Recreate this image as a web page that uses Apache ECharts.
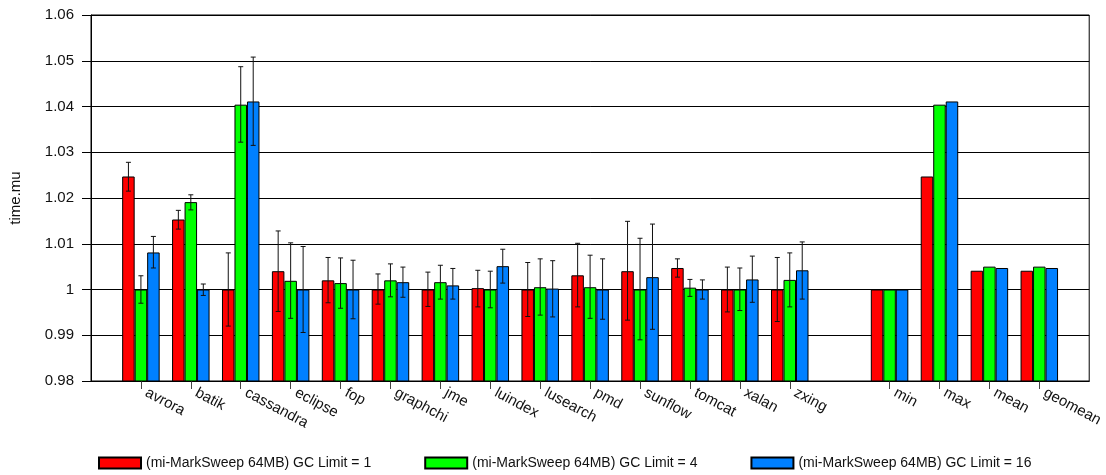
<!DOCTYPE html>
<html>
<head>
<meta charset="utf-8">
<script src="https://cdn.jsdelivr.net/npm/echarts@6/dist/echarts.min.js"></script>
<style>
html,body{margin:0;padding:0;background:#fff;}
#chart{width:1106px;height:475px;}
</style>
</head>
<body>
<div id="chart"></div>
<script>
const categories = ['', 'avrora', 'batik', 'cassandra', 'eclipse', 'fop', 'graphchi', 'jme', 'luindex', 'lusearch', 'pmd', 'sunflow', 'tomcat', 'xalan', 'zxing', '', 'min', 'max', 'mean', 'geomean', ''];
const seriesNames = ['(mi-MarkSweep 64MB) GC Limit = 1', '(mi-MarkSweep 64MB) GC Limit = 4', '(mi-MarkSweep 64MB) GC Limit = 16'];
const yTicks = [0.98, 0.99, 1.00, 1.01, 1.02, 1.03, 1.04, 1.05, 1.06];

const gc1 = [null, 1.0247, 1.0153, 1.0000, 1.0040, 1.0020, 1.0000, 1.0000, 1.0003, 1.0000, 1.0031, 1.0040, 1.0047, 1.0000, 1.0000, null, 1.0000, 1.0247, 1.0041, 1.0041, null];
const gc4 = [null, 1.0000, 1.0191, 1.0404, 1.0019, 1.0014, 1.0020, 1.0016, 1.0000, 1.0005, 1.0005, 1.0000, 1.0004, 1.0000, 1.0021, null, 1.0000, 1.0404, 1.0050, 1.0050, null];
const gc16 = [null, 1.0081, 1.0000, 1.0411, 1.0000, 1.0000, 1.0016, 1.0009, 1.0051, 1.0002, 1.0000, 1.0027, 1.0000, 1.0022, 1.0042, null, 1.0000, 1.0411, 1.0047, 1.0047, null];

const gc1Low  = [null, 1.0215, 1.0132, 0.9920, 0.9952, 0.9971, 0.9968, 0.9963, 0.9962, 0.9941, 0.9962, 0.9933, 1.0027, 0.9951, 0.9930, null, null, null, null, null, null];
const gc1High = [null, 1.0278, 1.0173, 1.0080, 1.0128, 1.0070, 1.0034, 1.0038, 1.0042, 1.0059, 1.0101, 1.0149, 1.0067, 1.0049, 1.0070, null, null, null, null, null, null];
const gc4Low  = [null, 0.9970, 1.0174, 1.0322, 0.9937, 0.9959, 0.9984, 0.9979, 0.9960, 0.9944, 0.9937, 0.9890, 0.9985, 0.9954, 0.9962, null, null, null, null, null, null];
const gc4High = [null, 1.0030, 1.0207, 1.0487, 1.0102, 1.0069, 1.0056, 1.0053, 1.0040, 1.0067, 1.0075, 1.0112, 1.0022, 1.0047, 1.0080, null, null, null, null, null, null];
const gc16Low  = [null, 1.0047, 0.9987, 1.0315, 0.9906, 0.9936, 0.9983, 0.9979, 1.0014, 0.9940, 0.9935, 0.9913, 0.9979, 0.9972, 0.9979, null, null, null, null, null, null];
const gc16High = [null, 1.0116, 1.0012, 1.0508, 1.0094, 1.0064, 1.0049, 1.0046, 1.0088, 1.0063, 1.0067, 1.0143, 1.0021, 1.0073, 1.0104, null, null, null, null, null, null];

const colors = ['#ff0000', '#00ff00', '#0080ff'];
const values = [gc1, gc4, gc16];
const lows = [gc1Low, gc4Low, gc16Low];
const highs = [gc1High, gc4High, gc16High];

const chart = echarts.init(document.getElementById('chart'), null, {renderer: 'canvas'});

function errorSeries(k) {
  const data = [];
  for (let i = 0; i < categories.length; i++) {
    if (lows[k][i] != null && highs[k][i] != null) data.push([i, lows[k][i], highs[k][i]]);
  }
  return {
    type: 'custom',
    name: 'err' + k,
    z: 10,
    silent: true,
    data: data,
    encode: {x: 0, y: [1, 2]},
    renderItem: function (params, api) {
      const idx = api.value(0);
      const lo = api.coord([idx, api.value(1)]);
      const hi = api.coord([idx, api.value(2)]);
      const band = api.size([1, 0])[0];
      const x = lo[0] + (k - 1) * band * 0.25;
      const cap = 2.5;
      const style = {stroke: '#111', lineWidth: 1};
      return {
        type: 'group',
        children: [
          {type: 'line', shape: {x1: x, y1: hi[1], x2: x, y2: lo[1]}, style: style},
          {type: 'line', shape: {x1: x - cap, y1: hi[1], x2: x + cap, y2: hi[1]}, style: style},
          {type: 'line', shape: {x1: x - cap, y1: lo[1], x2: x + cap, y2: lo[1]}, style: style}
        ]
      };
    }
  };
}

const barSeries = seriesNames.map((name, k) => ({
  type: 'bar',
  name: name,
  data: values[k],
  barWidth: 12.5,
  barGap: '0%',
  itemStyle: {color: colors[k], borderColor: '#000', borderWidth: 1},
  emphasis: {disabled: true}
}));

const option = {
  animation: false,
  backgroundColor: '#fff',
  textStyle: {fontFamily: 'Liberation Sans, Arial, sans-serif'},
  grid: {left: 91, right: 16, top: 15, bottom: 94, show: true, borderColor: '#000', borderWidth: 1, backgroundColor: 'transparent'},
  legend: {
    data: seriesNames,
    top: 456,
    left: 98,
    icon: 'rect',
    itemWidth: 42,
    itemHeight: 11,
    itemGap: 53,
    padding: 0,
    textStyle: {fontSize: 14, color: '#111', fontFamily: 'Liberation Sans, Arial, sans-serif'}
  },
  xAxis: {
    type: 'category',
    data: categories,
    boundaryGap: false,
    axisLine: {lineStyle: {color: '#000', width: 1}},
    axisTick: {show: true, length: 8, interval: function (i, v) { return v !== ''; }, lineStyle: {color: '#444'}},
    axisLabel: {interval: 0, rotate: -28, fontSize: 15, color: '#111', margin: 8, padding: [0, 0, 0, 6]},
    splitLine: {show: false}
  },
  yAxis: {
    type: 'value',
    min: yTicks[0],
    max: yTicks[yTicks.length - 1],
    interval: 0.01,
    name: 'time.mu',
    nameLocation: 'middle',
    nameGap: 68,
    nameTextStyle: {fontSize: 15, color: '#111'},
    axisLine: {show: true, lineStyle: {color: '#000', width: 1}},
    axisTick: {show: true, length: 9, lineStyle: {color: '#000'}},
    axisLabel: {fontSize: 15, color: '#111', margin: 17, formatter: function (v) { return String(parseFloat(v.toFixed(2))); }},
    splitLine: {show: true, lineStyle: {color: '#000', width: 1}}
  },
  series: barSeries.concat([errorSeries(0), errorSeries(1), errorSeries(2)])
};

chart.setOption(option);
</script>
</body>
</html>
